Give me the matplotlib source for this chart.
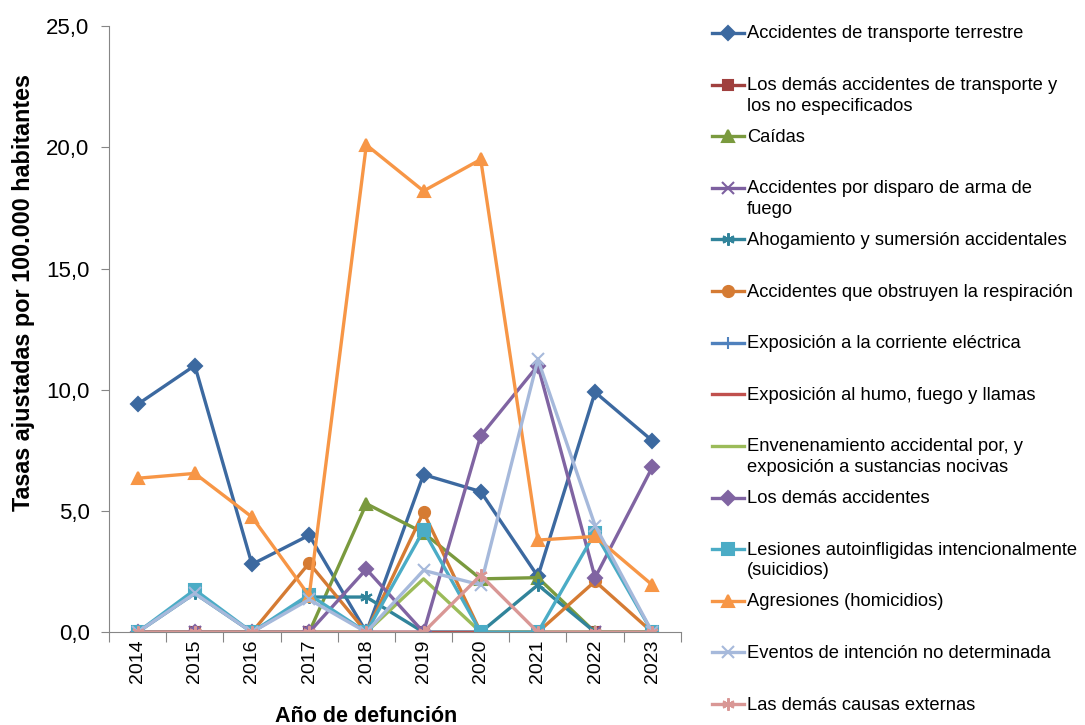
import numpy as np
import matplotlib
matplotlib.use('Agg')
import matplotlib.pyplot as plt

plt.rcParams['font.family'] = ['Liberation Sans', 'DejaVu Sans']

years = ['2014', '2015', '2016', '2017', '2018', '2019', '2020', '2021', '2022', '2023']

transporte_terrestre = [9.4, 11.0, 2.8, 4.0, 0.0, 6.5, 5.8, 2.3, 9.9, 7.9]
otros_transporte = [0, 0, 0, 0, 0, 0, 0, 0, 0, 0]
caidas = [0, 0, 0, 0, 5.3, 4.1, 2.2, 2.25, 0, 0]
arma_fuego = [0, 0, 0, 0, 0, 0, 0, 0, 0, 0]
ahogamiento = [0, 1.6, 0, 1.45, 1.45, 0, 0, 1.95, 0, 0]
obstruyen = [0, 0, 0, 2.85, 0, 4.95, 0, 0, 2.1, 0]
corriente = [0, 0, 0, 0, 0, 0, 0, 0, 0, 0]
humo = [0, 0, 0, 0, 0, 0, 0, 0, 0, 0]
envenenamiento = [0, 0, 0, 0, 0, 2.2, 0, 0, 0, 0]
demas_accidentes = [0, 0, 0, 0, 2.6, 0, 8.1, 11.0, 2.25, 6.8]
suicidios = [0, 1.75, 0, 1.55, 0, 4.2, 0, 0, 4.1, 0]
homicidios = [6.35, 6.55, 4.75, 1.5, 20.1, 18.2, 19.5, 3.8, 3.95, 1.95]
no_determinada = [0, 1.6, 0, 1.35, 0, 2.55, 1.95, 11.25, 4.4, 0]
demas_causas = [0, 0, 0, 0, 0, 0, 2.35, 0, 0, 0]

labels = ['Accidentes de transporte terrestre',
          'Los demás accidentes de transporte y\nlos no especificados',
          'Caídas',
          'Accidentes por disparo de arma de\nfuego',
          'Ahogamiento y sumersión accidentales',
          'Accidentes que obstruyen la respiración',
          'Exposición a la corriente eléctrica',
          'Exposición al humo, fuego y llamas',
          'Envenenamiento accidental por, y\nexposición a sustancias nocivas',
          'Los demás accidentes',
          'Lesiones autoinfligidas intencionalmente\n(suicidios)',
          'Agresiones (homicidios)',
          'Eventos de intención no determinada',
          'Las demás causas externas']

series = [transporte_terrestre, otros_transporte, caidas, arma_fuego, ahogamiento,
          obstruyen, corriente, humo, envenenamiento, demas_accidentes, suicidios,
          homicidios, no_determinada, demas_causas]

colors = ['#3C69A0', '#A0403E', '#7A9A3E', '#7D60A0', '#31849B', '#D57B33', '#4F81BD',
          '#C0504D', '#9BBB59', '#8064A2', '#4BACC6', '#F79646', '#A6B9DB', '#D99795']
star = (6, 2, 0)
markers = ['D', 's', '^', 'x', star, 'o', '+', None, None, 'D', 's', '^', 'x', star]
msizes = [7, 7, 8, 8, 9, 8, 9, 0, 0, 7, 8, 8, 9, 9]

fig = plt.figure(figsize=(10.85, 7.25), dpi=100)
ax = fig.add_axes([0.1005, 0.128, 0.527, 0.836])

x = np.arange(len(years))
handles = []
for i, (vals, lab, c, m, ms) in enumerate(zip(series, labels, colors, markers, msizes)):
    # one-line entries get an empty second line so every legend row is the same height
    if '\n' not in lab and i < len(labels) - 1:
        lab = lab + '\n '
    h, = ax.plot(x, vals, color=c, lw=2.4, marker=m, markersize=ms,
                 markeredgewidth=1.5, label=lab)
    handles.append(h)

ax.set_xlim(-0.5, len(years) - 0.5)
ax.set_ylim(0, 25)
ax.set_yticks(np.arange(0, 26, 5))
ax.set_yticklabels([('%.1f' % v).replace('.', ',') for v in np.arange(0, 26, 5)], fontsize=16)
ax.set_xticks(np.arange(-0.5, len(years), 1))
ax.set_xticklabels([])
ax.set_xticks(x, minor=True)
ax.set_xticklabels(years, minor=True, rotation=90, fontsize=14)
ax.tick_params(axis='x', which='minor', length=0, pad=5)
ax.tick_params(axis='x', which='major', length=7, color='#868686')
ax.tick_params(axis='y', length=6, color='#868686', pad=8)
for s in ['top', 'right']:
    ax.spines[s].set_visible(False)
for s in ['left', 'bottom']:
    ax.spines[s].set_color('#868686')

ax.set_ylabel('Tasas ajustadas por 100.000 habitantes', fontsize=16.8, fontweight='bold')
ax.yaxis.set_label_coords(-0.13, 0.561)
ax.set_xlabel('Año de defunción', fontsize=15.5, fontweight='bold')
ax.xaxis.set_label_coords(0.449, -0.122)

leg = fig.legend(handles=handles, loc='upper left', bbox_to_anchor=(0.656, 0.965),
                 frameon=False, fontsize=13.2, handlelength=1.76, handletextpad=0.16,
                 handleheight=1.1, labelspacing=0.77, borderaxespad=0, borderpad=0)
for t in leg.texts:
    t.set_linespacing(1.27)
# keep each legend line level with the first text line
for row in leg._legend_handle_box.get_children()[0].get_children():
    row.align = 'top'

fig.savefig('out.png', dpi=100)
